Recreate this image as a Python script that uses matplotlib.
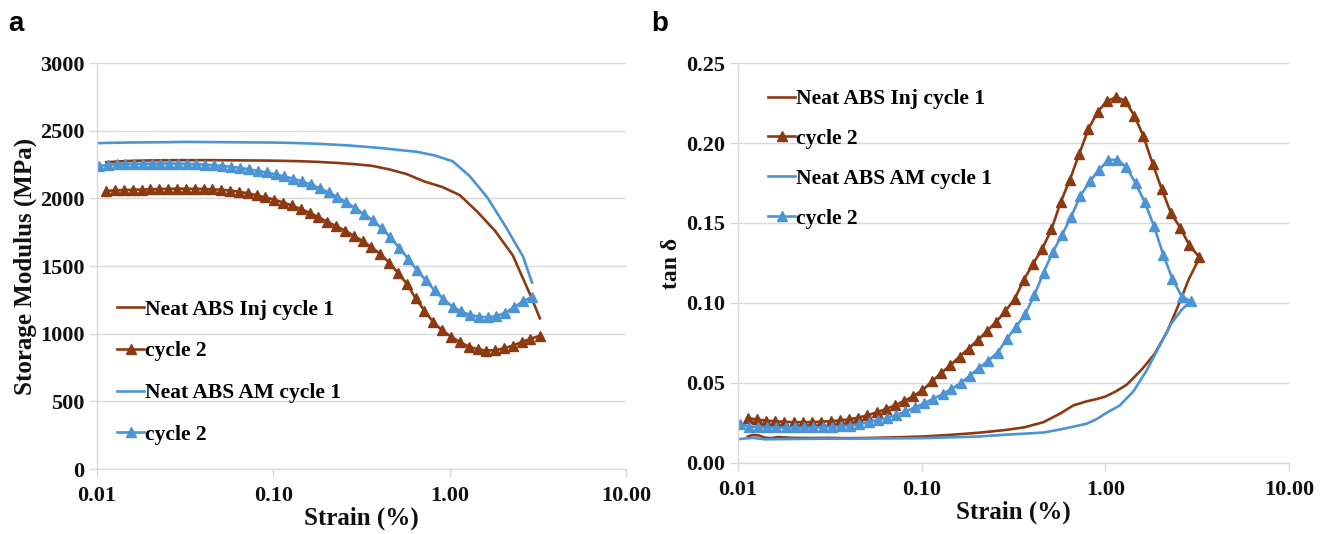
import matplotlib
matplotlib.use("Agg")
import matplotlib.pyplot as plt
from matplotlib.ticker import FixedLocator, FixedFormatter

# strain (%) grids
strain_inj = [0.0113, 0.0127, 0.0142, 0.0160, 0.0179, 0.0201, 0.0226, 0.0253, 0.0284, 0.0319,
              0.0358, 0.0402, 0.0451, 0.0506, 0.0568, 0.0637, 0.0715, 0.0803, 0.0901, 0.101,
              0.114, 0.127, 0.143, 0.161, 0.180, 0.202, 0.227, 0.255, 0.286, 0.321,
              0.360, 0.404, 0.454, 0.509, 0.571, 0.641, 0.720, 0.808, 0.907, 1.02,
              1.14, 1.28, 1.44, 1.61, 1.81, 2.03, 2.28, 2.56, 2.87, 3.25]
strain_am = [0.0102, 0.0115, 0.0129, 0.0144, 0.0162, 0.0182, 0.0204, 0.0229, 0.0257, 0.0289,
             0.0324, 0.0364, 0.0408, 0.0458, 0.0514, 0.0577, 0.0648, 0.0727, 0.0816, 0.0916,
             0.103, 0.115, 0.130, 0.145, 0.163, 0.183, 0.206, 0.231, 0.259, 0.291,
             0.326, 0.366, 0.411, 0.461, 0.518, 0.581, 0.652, 0.732, 0.822, 0.922,
             1.04, 1.16, 1.30, 1.46, 1.64, 1.84, 2.07, 2.32, 2.61, 2.93]

# panel a: storage modulus (MPa)
inj_c1_x = [0.0113, 0.0142, 0.0179, 0.0226, 0.0284, 0.0358, 0.0451, 0.0568, 0.0715, 0.0901,
            0.114, 0.143, 0.180, 0.227, 0.286, 0.360, 0.454, 0.571, 0.720, 0.907,
            1.14, 1.44, 1.81, 2.28, 2.87, 3.25]
inj_c1_mod = [2268, 2276, 2280, 2282, 2283, 2283, 2283, 2282, 2281, 2280,
              2278, 2275, 2270, 2263, 2254, 2242, 2215, 2180, 2125, 2085,
              2025, 1900, 1760, 1580, 1285, 1114]
inj_c2_mod = [2055, 2060, 2062, 2064, 2066, 2068, 2070, 2071, 2072, 2072,
              2071, 2070, 2068, 2064, 2058, 2050, 2038, 2024, 2008, 1992,
              1970, 1948, 1922, 1893, 1862, 1828, 1795, 1762, 1725, 1685,
              1640, 1590, 1525, 1450, 1370, 1262, 1170, 1085, 1025, 978,
              940, 905, 885, 876, 878, 892, 912, 938, 962, 985]
am_c1_x = [0.0102, 0.0129, 0.0162, 0.0204, 0.0257, 0.0324, 0.0408, 0.0514, 0.0648, 0.0816,
           0.103, 0.130, 0.163, 0.206, 0.259, 0.326, 0.411, 0.518, 0.652, 0.822,
           1.04, 1.30, 1.64, 2.07, 2.61, 2.93]
am_c1_mod = [2409, 2412, 2414, 2415, 2416, 2418, 2417, 2416, 2415, 2414,
             2413, 2410, 2406, 2400, 2393, 2383, 2372, 2358, 2345, 2318,
             2275, 2165, 2005, 1795, 1570, 1379]
am_c2_mod = [2238, 2248, 2252, 2255, 2256, 2257, 2257, 2258, 2258, 2257,
             2256, 2254, 2250, 2246, 2240, 2234, 2226, 2216, 2204, 2192,
             2178, 2163, 2146, 2126, 2104, 2075, 2045, 2010, 1972, 1930,
             1885, 1840, 1780, 1712, 1635, 1555, 1470, 1395, 1320, 1255,
             1200, 1165, 1140, 1127, 1122, 1130, 1155, 1195, 1240, 1272]

# panel b: tan delta
inj_c1_tx = [0.0113, 0.0120, 0.0130, 0.0140, 0.0152, 0.0165, 0.0180, 0.0200, 0.0250, 0.0300,
             0.0400, 0.0500, 0.0700, 0.100, 0.140, 0.200, 0.280, 0.360, 0.460, 0.570,
             0.670, 0.790, 0.900, 1.00, 1.14, 1.31, 1.58, 1.85, 2.17, 2.53, 2.85, 3.25]
inj_c1_tan = [0.0165, 0.0175, 0.0172, 0.0158, 0.0155, 0.0162, 0.0160, 0.0157, 0.0156, 0.0157,
              0.0155, 0.0156, 0.0160, 0.0165, 0.0175, 0.0188, 0.0205, 0.0222, 0.0255, 0.0310,
              0.0360, 0.0385, 0.0400, 0.0415, 0.0447, 0.0490, 0.0585, 0.0680, 0.0820, 0.1000,
              0.1150, 0.1280]
inj_c2_tan = [0.0280, 0.0272, 0.0265, 0.0260, 0.0257, 0.0255, 0.0255, 0.0256, 0.0258, 0.0261,
              0.0266, 0.0273, 0.0283, 0.0298, 0.0316, 0.0337, 0.0360, 0.0387, 0.0418, 0.0455,
              0.0510, 0.0560, 0.0610, 0.0665, 0.0715, 0.0768, 0.0825, 0.0883, 0.0950, 0.1025,
              0.1145, 0.1245, 0.1340, 0.1460, 0.1630, 0.1770, 0.1930, 0.2085, 0.2195, 0.2260,
              0.2287, 0.2265, 0.2170, 0.2045, 0.1870, 0.1710, 0.1560, 0.1470, 0.1360, 0.1287]
am_c1_tx = [0.0102, 0.0120, 0.0140, 0.0200, 0.0300, 0.0500, 0.0700, 0.100, 0.200, 0.300,
            0.460, 0.600, 0.790, 0.900, 1.00, 1.20, 1.42, 1.67, 1.95, 2.28, 2.60, 2.90]
am_c1_tan = [0.0150, 0.0157, 0.0148, 0.0150, 0.0152, 0.0153, 0.0154, 0.0155, 0.0165, 0.0178,
             0.0190, 0.0215, 0.0245, 0.0275, 0.0309, 0.0360, 0.0447, 0.0574, 0.0720, 0.0870,
             0.0957, 0.1010]
am_c2_tan = [0.0245, 0.0228, 0.0225, 0.0223, 0.0222, 0.0222, 0.0222, 0.0222, 0.0223, 0.0224,
             0.0226, 0.0229, 0.0234, 0.0243, 0.0255, 0.0268, 0.0283, 0.0300, 0.0322, 0.0347,
             0.0372, 0.0400, 0.0430, 0.0462, 0.0500, 0.0545, 0.0595, 0.0640, 0.0690, 0.0775,
             0.0850, 0.0930, 0.1050, 0.1190, 0.1320, 0.1425, 0.1540, 0.1670, 0.1760, 0.1830,
             0.1895, 0.1895, 0.1850, 0.1750, 0.1630, 0.1480, 0.1300, 0.1150, 0.1040, 0.1010]

labels = ["Neat ABS Inj cycle 1", "cycle 2", "Neat ABS AM cycle 1", "cycle 2"]
x_ticks = [0.01, 0.1, 1, 10]
x_ticklabels = ["0.01", "0.10", "1.00", "10.00"]
mod_ticks = [0, 500, 1000, 1500, 2000, 2500, 3000]
tan_ticks = [0.00, 0.05, 0.10, 0.15, 0.20, 0.25]

BROWN = "#8B3A12"
BLUE = "#4C94D4"
GRID = "#d9d9d9"
INK = "#111111"

plt.rcParams["font.family"] = ["Liberation Serif", "DejaVu Serif"]
plt.rcParams["font.weight"] = "bold"

fig = plt.figure(figsize=(13.29, 5.34), dpi=100)
ax_a = fig.add_axes([0.0730, 0.1217, 0.398, 0.760])
ax_b = fig.add_axes([0.5553, 0.1330, 0.4146, 0.749])


def style_axes(ax, yticks, yfmt, ylim):
    ax.set_xscale("log")
    ax.set_xlim(0.01, 10)
    ax.set_ylim(*ylim)
    ax.xaxis.set_major_locator(FixedLocator(x_ticks))
    ax.xaxis.set_major_formatter(FixedFormatter(x_ticklabels))
    ax.xaxis.set_minor_locator(FixedLocator([]))
    ax.set_yticks(yticks)
    ax.set_yticklabels([yfmt.format(v) for v in yticks])
    for side in ["top", "right"]:
        ax.spines[side].set_visible(False)
    for side in ["left", "bottom"]:
        ax.spines[side].set_color(GRID)
        ax.spines[side].set_linewidth(1.0)
    ax.grid(axis="y", color=GRID, linewidth=1.0)
    ax.set_axisbelow(True)
    ax.tick_params(axis="both", colors=GRID, length=6, width=1.0, labelsize=16,
                   labelcolor=INK)
    ax.tick_params(axis="x", pad=6)
    ax.tick_params(axis="y", pad=3)
    for t in ax.get_xticklabels() + ax.get_yticklabels():
        t.set_fontweight("bold")
    ax.set_xlabel("Strain (%)", fontsize=18, fontweight="bold", color=INK, labelpad=1)


lw = 1.9
ms = 7.5

ax_a.plot(inj_c1_x, inj_c1_mod, color=BROWN, lw=lw, label=labels[0])
ax_a.plot(strain_inj, inj_c2_mod, color=BROWN, lw=lw, marker="^", ms=ms, label=labels[1])
ax_a.plot(am_c1_x, am_c1_mod, color=BLUE, lw=lw, label=labels[2])
ax_a.plot(strain_am, am_c2_mod, color=BLUE, lw=lw, marker="^", ms=ms, label=labels[3])
style_axes(ax_a, mod_ticks, "{:.0f}", (0, 3000))
ax_a.set_ylabel("Storage Modulus (MPa)", fontsize=18, fontweight="bold", color=INK,
                labelpad=2)
ax_a.legend(loc="upper left", bbox_to_anchor=(0.038, 0.417), frameon=False,
            handlelength=1.25, handletextpad=0.05, labelspacing=1.0, borderpad=0,
            borderaxespad=0, prop={"weight": "bold", "size": 15.5})

ax_b.plot(inj_c1_tx, inj_c1_tan, color=BROWN, lw=lw, label=labels[0])
ax_b.plot(strain_inj, inj_c2_tan, color=BROWN, lw=lw, marker="^", ms=ms, label=labels[1])
ax_b.plot(am_c1_tx, am_c1_tan, color=BLUE, lw=lw, label=labels[2])
ax_b.plot(strain_am, am_c2_tan, color=BLUE, lw=lw, marker="^", ms=ms, label=labels[3])
style_axes(ax_b, tan_ticks, "{:.2f}", (0, 0.25))
ax_b.set_ylabel("tan δ", fontsize=17, fontweight="bold", color=INK, labelpad=3)
ax_b.legend(loc="upper left", bbox_to_anchor=(0.055, 0.935), frameon=False,
            handlelength=1.25, handletextpad=0.05, labelspacing=0.92, borderpad=0,
            borderaxespad=0, prop={"weight": "bold", "size": 15.5})

fig.text(0.006, 0.955, "a", fontsize=20, fontweight="bold", family="Liberation Sans",
         va="center", ha="left")
fig.text(0.490, 0.955, "b", fontsize=20, fontweight="bold", family="Liberation Sans",
         va="center", ha="left")

fig.savefig("out.png", dpi=100)
